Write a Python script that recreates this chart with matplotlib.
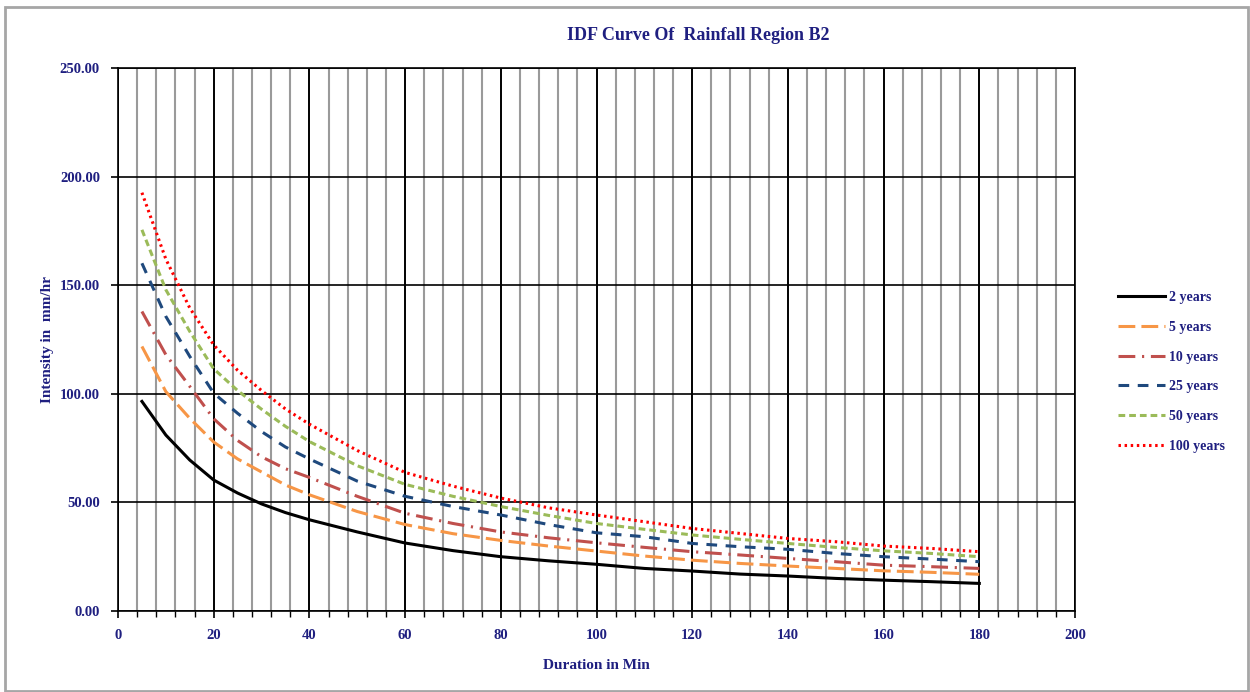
import matplotlib
matplotlib.use("Agg")
import matplotlib.pyplot as plt
from matplotlib.patches import Rectangle
from matplotlib.ticker import MultipleLocator, FormatStrFormatter

# Rainfall intensity (mm/hr) against storm duration (min), region B2
duration = [5, 10, 15, 20, 25, 30, 35, 40, 50, 60, 70, 80, 90, 100,
            110, 120, 130, 140, 150, 160, 170, 180]

i_2yr = [96.5, 81.0, 69.5, 60.3, 54.3, 49.3, 45.3, 42.0, 36.4, 31.3, 27.8, 25.0, 23.1, 21.5,
         19.6, 18.4, 17.0, 16.1, 15.0, 14.2, 13.5, 12.7]
i_5yr = [121.8, 101.0, 88.7, 77.8, 70.0, 64.0, 58.0, 53.5, 45.8, 39.8, 35.6, 32.5, 29.9, 27.6,
         25.3, 23.4, 21.9, 20.7, 19.6, 18.5, 17.8, 16.9]
i_10yr = [137.9, 118.0, 103.4, 88.5, 78.5, 71.0, 65.5, 61.5, 52.8, 45.0, 40.3, 36.4, 33.7, 31.4,
          29.3, 27.3, 25.8, 24.2, 22.7, 21.1, 20.4, 19.6]
i_25yr = [160.1, 135.6, 117.2, 100.3, 91.0, 82.6, 75.5, 70.0, 59.8, 52.8, 48.1, 44.2, 39.8, 36.0,
          34.2, 31.1, 29.6, 28.4, 26.5, 25.0, 23.9, 22.7]
i_50yr = [175.5, 147.9, 128.7, 111.5, 101.5, 92.9, 85.0, 78.0, 66.9, 58.3, 52.8, 48.1, 44.0, 40.3,
          37.6, 35.0, 33.0, 31.1, 29.3, 27.7, 26.5, 25.0]
i_100yr = [192.6, 162.0, 139.5, 122.5, 110.8, 101.5, 93.0, 86.0, 73.9, 63.8, 57.5, 52.0, 47.5, 44.2,
           41.1, 38.0, 35.7, 33.4, 31.9, 29.9, 28.8, 27.3]

labels = ["2 years", "5 years", "10 years", "25 years", "50 years", "100 years"]

text_col = "#1F1F80"
serif = ["Liberation Serif", "DejaVu Serif"]

fig = plt.figure(figsize=(12.5, 6.92), dpi=100)
ax = fig.add_axes([118 / 1250, 1 - 611 / 692, (1075 - 118) / 1250, (611 - 68) / 692])

lw = 2.2
ax.plot(duration, i_2yr, color="black", lw=lw, label=labels[0])
ax.plot(duration, i_5yr, color="#F79646", lw=lw, dashes=(5.5, 2.0), label=labels[1])
ax.plot(duration, i_10yr, color="#C0504D", lw=lw, dashes=(5.5, 2.2, 0.7, 2.2), label=labels[2])
ax.plot(duration, i_25yr, color="#1F497D", lw=lw, dashes=(3.5, 2.8), label=labels[3])
ax.plot(duration, i_50yr, color="#9BBB59", lw=lw, dashes=(2.2, 1.3), label=labels[4])
ax.plot(duration, i_100yr, color="#FF0000", lw=lw, dashes=(0.8, 1.2), label=labels[5])

ax.set_xlim(0, 200)
ax.set_ylim(0, 250)
ax.xaxis.set_major_locator(MultipleLocator(20))
ax.xaxis.set_minor_locator(MultipleLocator(4))
ax.yaxis.set_major_locator(MultipleLocator(50))
ax.yaxis.set_major_formatter(FormatStrFormatter("%.2f"))

ax.grid(which="minor", axis="x", color="#9A9A9A", lw=1.5, zorder=0)
ax.grid(which="major", axis="x", color="black", lw=1.4, zorder=0)
ax.grid(which="major", axis="y", color="black", lw=1.2, zorder=0)
ax.set_axisbelow(True)

for sp in ax.spines.values():
    sp.set_color("black")
    sp.set_linewidth(1.2)

ax.tick_params(which="major", direction="out", length=5, width=1.2, colors="black",
               labelcolor=text_col, pad=8)
ax.tick_params(which="minor", direction="out", length=4, width=1.0, colors="black")
for lab in ax.get_xticklabels() + ax.get_yticklabels():
    lab.set_family(serif)
    lab.set_fontsize(10.5)
    lab.set_fontweight("bold")

ax.set_xlabel("Duration in Min", family=serif, fontsize=11, fontweight="bold",
              color=text_col, labelpad=12)
ax.set_ylabel("Intensity in  mm/hr", family=serif, fontsize=11, fontweight="bold",
              color=text_col, labelpad=4)

fig.text(698 / 1250, 1 - 36 / 692, "IDF Curve Of  Rainfall Region B2", family=serif,
         fontsize=13, fontweight="bold", color=text_col, ha="center", va="center")

leg = fig.legend(loc="center left", bbox_to_anchor=(1105 / 1250, 1 - 372 / 692),
                 frameon=False, handlelength=3.4, handletextpad=0.3, labelspacing=1.2,
                 prop={"family": serif, "size": 10, "weight": "bold"})
for t in leg.get_texts():
    t.set_color(text_col)

# thin grey frame around the whole chart
fig.patches.append(Rectangle((5 / 1250, 1 / 692), 1243 / 1250, 684 / 692,
                             transform=fig.transFigure, fill=False,
                             edgecolor="#A6A6A6", lw=2))

fig.savefig("out.png", dpi=100)
